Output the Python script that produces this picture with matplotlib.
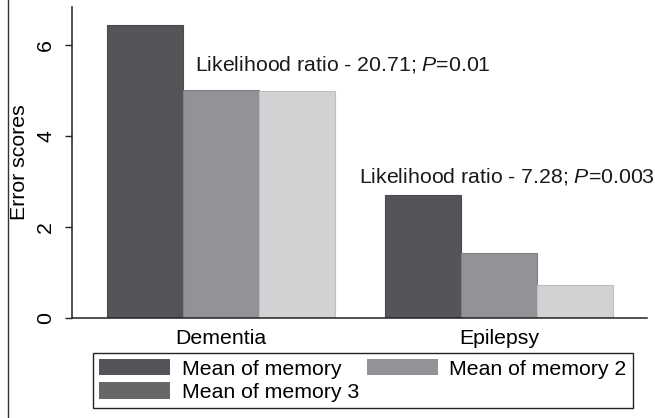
import matplotlib
matplotlib.use("Agg")
import matplotlib.pyplot as plt
from matplotlib.patches import Patch
from matplotlib.lines import Line2D
import numpy as np

categories = ["Dementia", "Epilepsy"]
series_names = ["Mean of memory", "Mean of memory 2", "Mean of memory 3"]
memory1 = [6.44, 2.71]
memory2 = [5.01, 1.43]
memory3 = [5.00, 0.73]
yticks = [0, 2, 4, 6]
annotations = ["Likelihood ratio - 20.71; $\\it{P}$=0.01",
               "Likelihood ratio - 7.28; $\\it{P}$=0.003"]

bar_colors = ["#545558", "#929396", "#d1d2d4"]
edge_colors = ["#4a4b4e", "#808184", "#bdbec0"]
legend_colors = ["#545558", "#929396", "#666769"]

plt.rcParams['font.family'] = ['Liberation Sans', 'DejaVu Sans']
plt.rcParams['mathtext.fontset'] = 'custom'
plt.rcParams['mathtext.it'] = 'Liberation Sans:italic'
plt.rcParams['mathtext.rm'] = 'Liberation Sans'

fs = 15.3
fig = plt.figure(figsize=(6.55, 4.18), dpi=100)
ax = fig.add_axes([72/655, 1-318/418, (647-72)/655, (318-7)/418])

x = np.arange(len(categories))
w = 0.273
for i, vals in enumerate([memory1, memory2, memory3]):
    ax.bar(x + (i-1)*w, vals, width=w, color=bar_colors[i],
           edgecolor=edge_colors[i], linewidth=0.8, zorder=2)

ax.set_xlim(-0.536, 1.532)
ax.set_ylim(0, 6.84)
ax.set_xticks(x)
ax.set_xticklabels(categories, fontsize=fs)
ax.set_yticks(yticks)
ax.set_yticklabels([str(t) for t in yticks], fontsize=fs)
ax.tick_params(axis='x', length=0, pad=8)
ax.tick_params(axis='y', length=5, width=1, pad=7, labelrotation=90, color='#222222')
for lab in ax.get_yticklabels():
    lab.set_va('center')
ax.set_ylabel("Error scores", fontsize=fs, labelpad=5)
for s in ['top', 'right']:
    ax.spines[s].set_visible(False)
for s in ['left', 'bottom']:
    ax.spines[s].set_linewidth(1.1)
    ax.spines[s].set_color('#222222')

ax.text(-0.094, 5.45, annotations[0], fontsize=fs, va='baseline', ha='left', color='#1a1a1a')
ax.text(0.496, 2.99, annotations[1], fontsize=fs, va='baseline', ha='left', color='#1a1a1a')

handles = [Patch(facecolor=legend_colors[0], edgecolor='none'),
           Patch(facecolor=legend_colors[2], edgecolor='none'),
           Patch(facecolor=legend_colors[1], edgecolor='none')]
labels = [series_names[0], series_names[2], series_names[1]]
leg = fig.legend(handles, labels, ncol=2, loc='upper left',
                 bbox_to_anchor=(93/655, 1-353/418), fontsize=fs,
                 handlelength=3.35, handleheight=0.82, handletextpad=0.55,
                 columnspacing=0.35, labelspacing=0.18, borderpad=0.28,
                 fancybox=False, framealpha=1, edgecolor='#222222',
                 borderaxespad=0)
leg.get_frame().set_linewidth(1.0)

fig.add_artist(Line2D([8/655, 8/655], [0, 1], transform=fig.transFigure,
                      color='#333333', linewidth=1.0))

fig.savefig("out.png", dpi=100)
